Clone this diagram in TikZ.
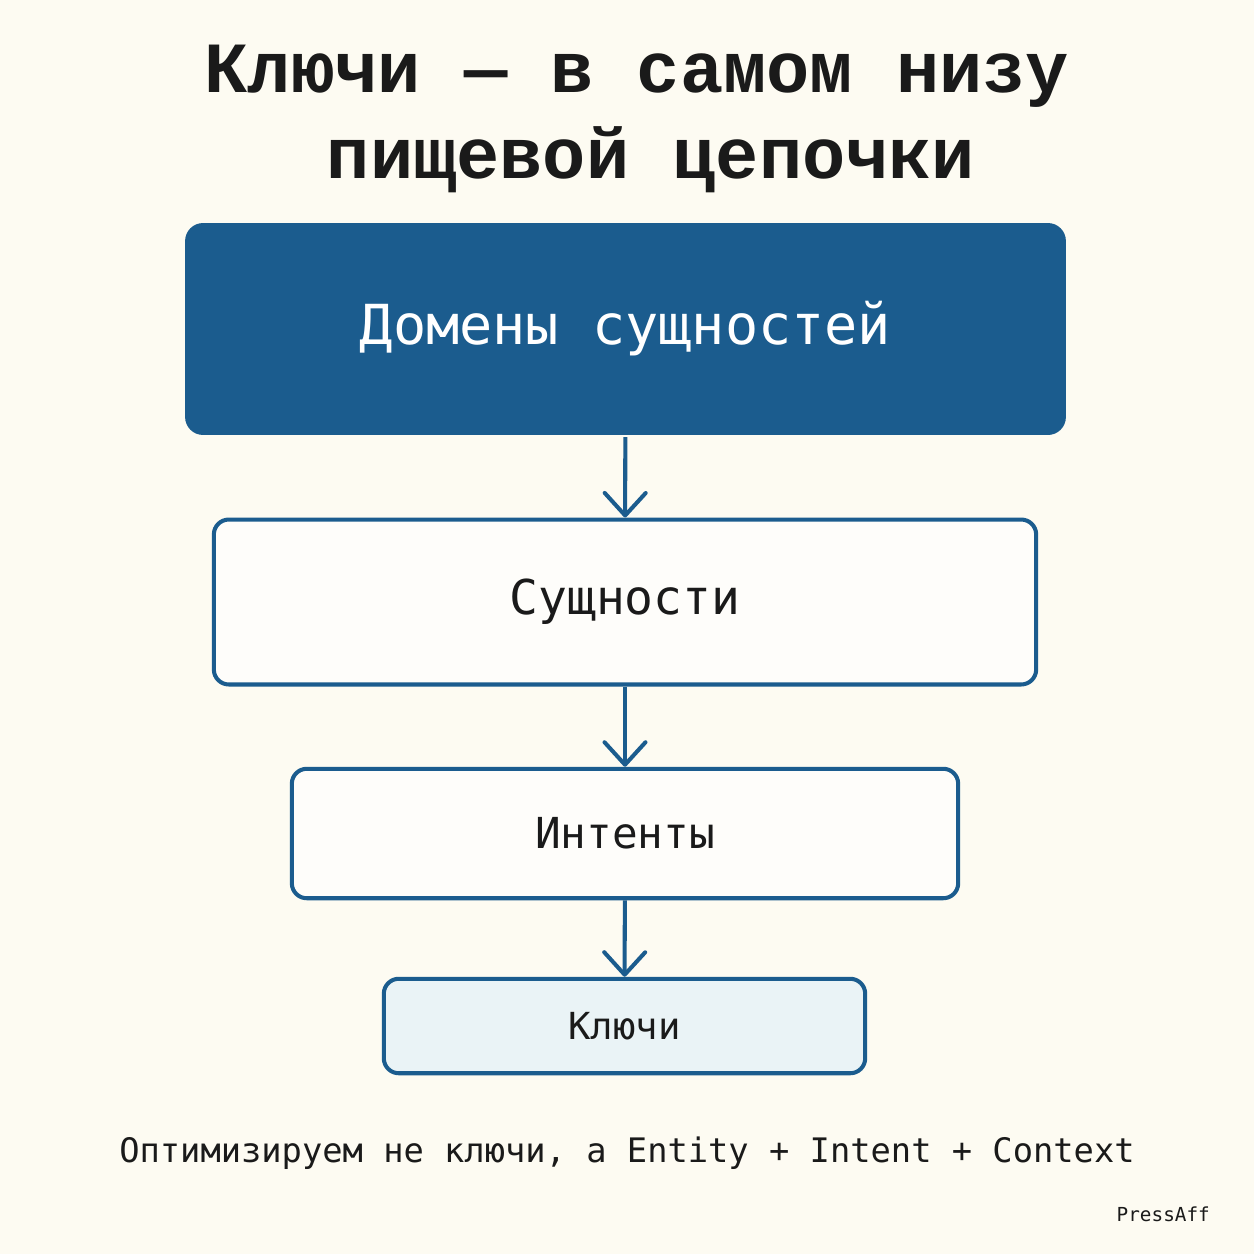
\documentclass[tikz,border=0pt]{standalone}
\usepackage{fontspec}
\usepackage{xcolor}
\usepackage{tikz}
\usetikzlibrary{arrows.meta}
\newfontfamily\titlefont{Liberation Mono}
\newfontfamily\boxfont{DejaVu Sans Mono}
\definecolor{bgcream}{HTML}{FDFBF2}
\definecolor{chainblue}{HTML}{1B5C8E}
\definecolor{keyfill}{HTML}{EAF3F6}
\definecolor{inkdark}{HTML}{1A1A1A}

\begin{document}
\begin{tikzpicture}[x=0.02cm, y=-0.02cm,
  level/.style={draw=chainblue, line width=2.3pt, rounded corners=0.3cm, fill=white!60!bgcream,
    text=inkdark, font=\boxfont},
  flow/.style={-{Straight Barb[length=0.45cm, width=0.82cm, line cap=round, line join=round]},
    draw=chainblue, line width=2.3pt}]
\useasboundingbox (0,0) rectangle (1254,1254);
\fill[bgcream] (0,0) rectangle (1254,1254);
% title
\node[anchor=base, text=inkdark, font=\titlefont\bfseries\fontsize{41}{49}\selectfont] (title1) at (637,92) {Ключи — в самом низу};
\node[anchor=base, text=inkdark, font=\titlefont\bfseries\fontsize{41}{49}\selectfont] (title2) at (651,178) {пищевой цепочки};
% the chain
\node[level, draw=none, fill=chainblue, text=white, rounded corners=0.36cm, minimum width=17.62cm, minimum height=4.24cm,
  font=\boxfont\fontsize{31.4}{36}\selectfont] (domains) at (625.5,329) {Домены сущностей};
\node[level, minimum width=16.45cm, minimum height=3.3cm, font=\boxfont\fontsize{27.3}{32}\selectfont] (entities) at (625,602) {Сущности};
\node[level, minimum width=13.33cm, minimum height=2.59cm, font=\boxfont\fontsize{24.3}{28}\selectfont] (intents) at (625,833.5) {Интенты};
\node[level, fill=keyfill, minimum width=9.63cm, minimum height=1.89cm, font=\boxfont\fontsize{21.2}{25}\selectfont] (keys) at (624.5,1026) {Ключи};
\draw[flow] (domains) -- (entities);
\draw[flow] (entities) -- (intents);
\draw[flow] (intents) -- (keys);
% footer
\node[anchor=base, text=inkdark, font=\boxfont\fontsize{19.2}{23}\selectfont] (motto) at (627,1162) {Оптимизируем не ключи, а Entity + Intent + Context};
\node[anchor=base east, text=inkdark, font=\boxfont\fontsize{11}{13}\selectfont] (brand) at (1216,1221) {PressAff};
\end{tikzpicture}
\end{document}
